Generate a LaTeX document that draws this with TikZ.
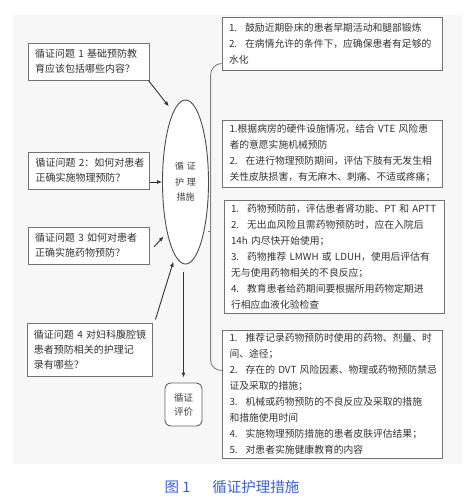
\documentclass[tikz,border=0pt]{standalone}
\usepackage{fontspec}
\usepackage{xcolor}
\newfontfamily\cjk{Noto Sans CJK SC}
\usetikzlibrary{
    arrows.meta,
    positioning,
    shapes.geometric
}
\definecolor{capblue}{RGB}{58,98,212}
\newcommand{\listno}[1]{#1.\kern8pt}

\begin{document}
\begin{tikzpicture}[
    x=1pt, y=1pt,
    font=\cjk,
    qbox/.style={
        rectangle,
        draw=black!55,
        line width=0.9pt,
        fill=white,
        align=left,
        inner xsep=7pt,
        inner ysep=3pt,
        text width=107pt,
        minimum height=37pt,
        text=black!80,
        font=\cjk\fontsize{10}{15}\selectfont
    },
    rbox/.style={
        rectangle,
        draw=black!55,
        line width=0.9pt,
        fill=white,
        align=left,
        inner xsep=7pt,
        inner ysep=3pt,
        text width=206pt,
        text=black!80,
        font=\cjk\fontsize{9.8}{16}\selectfont
    },
    hub/.style={
        ellipse,
        draw=black!70,
        line width=0.9pt,
        fill=white,
        inner sep=0pt,
        minimum width=46pt,
        minimum height=164pt,
        align=center,
        text=black!75,
        font=\cjk\fontsize{9}{15.5}\selectfont
    },
    evalbox/.style={
        rectangle,
        rounded corners=6pt,
        draw=black!60,
        line width=0.9pt,
        fill=white,
        align=center,
        minimum width=37pt,
        minimum height=43pt,
        inner sep=1pt,
        text=black!75,
        font=\cjk\fontsize{9.5}{14}\selectfont
    },
    arrow/.style={
        -{Latex[length=5pt,width=4pt]},
        line width=0.9pt,
        draw=black!80
    },
    link/.style={
        line width=0.9pt,
        draw=black!50
    }
]

\useasboundingbox (0,0) rectangle (476,-501);
\fill[black!3] (13,-15) rectangle (462,-464);

% =========================================================
% Evidence questions
% =========================================================
\node[qbox] (q1) at (88.5,-61.5)
{循证问题~1~基础预防教\\育应该包括哪些内容？};

\node[qbox] (q2) at (89,-170.5)
{循证问题~2：如何对患者\\正确实施物理预防？};

\node[qbox] (q3) at (88.5,-245.5)
{循证问题~3~如何对患者\\正确实施药物预防？};

\node[qbox, text width=111pt, minimum height=53pt] (q4) at (89.5,-349.5)
{循证问题~4~对妇科腹腔镜\\患者预防相关的护理记\\录有哪些？};

% =========================================================
% Measures and evaluation
% =========================================================
\node[hub] (ell) at (185.5,-182)
{循\,\,证\\护\,\,理\\措施};

\node[evalbox] (eval) at (183.5,-404.5)
{循证\\评价};

% =========================================================
% Measure details
% =========================================================
\node[rbox, minimum height=53pt] (r1) at (332,-43.5)
{\listno{1}鼓励近期卧床的患者早期活动和腿部锻炼\\
\listno{2}在病情允许的条件下，应确保患者有足够的\\
水化};

\node[rbox, minimum height=67pt] (r2) at (332.5,-153.5)
{1.根据病房的硬件设施情况，结合~VTE~风险患\\
者的意愿实施机械预防\\
\listno{2}在进行物理预防期间，评估下肢有无发生相\\
关性皮肤损害，有无麻木、刺痛、不适或疼痛；};

\node[rbox, minimum height=113pt] (r3) at (334,-256.5)
{\listno{1}药物预防前，评估患者肾功能、PT~和~APTT\\
\listno{2}无出血风险且需药物预防时，应在入院后\\
14h~内尽快开始使用；\\
\listno{3}药物推荐~LMWH~或~LDUH，使用后评估有\\
无与使用药物相关的不良反应；\\
\listno{4}教育患者给药期间要根据所用药物定期进\\
行相应血液化验检查};

\node[rbox, minimum height=128pt] (r4) at (332.5,-394)
{\listno{1}推荐记录药物预防时使用的药物、剂量、时\\
间、途径；\\
\listno{2}存在的~DVT~风险因素、物理或药物预防禁忌\\
证及采取的措施；\\
\listno{3}机械或药物预防的不良反应及采取的措施\\
和措施使用时间\\
\listno{4}实施物理预防措施的患者皮肤评估结果；\\
\listno{5}对患者实施健康教育的内容};

% =========================================================
% Caption
% =========================================================
\node[text=capblue, font=\cjk\fontsize{14.5}{16}\selectfont] (cap) at (232,-487)
{图 1\hspace{22pt}循证护理措施};

% =========================================================
% Arrows into the measures
% =========================================================
\draw[arrow, shorten >=7pt] ([xshift=-1pt]q1.south east) -- (ell.100);
\draw[arrow] (ell.west -| q2.east) -- (ell.west);
\draw[arrow, shorten <=1pt, shorten >=5pt] ([xshift=4pt,yshift=-2pt]q3.east) -- (ell.250);
\draw[arrow, shorten >=6pt] ([xshift=3pt,yshift=3pt]q4.north east) -- (ell.262);
\draw[arrow, shorten <=8pt, shorten >=5pt] (eval.north |- ell.south) -- (eval.north);

% =========================================================
% Brace to the details
% =========================================================
\coordinate (mid) at (211,-231);
\draw[link] ([yshift=7pt]r1.south west) to[out=180,in=90] ++(-11,-12)
    -- ++(0,-285) to[out=-90,in=180] ([yshift=-41pt]r4.north west);
\draw[link] (mid) -- ++(-3,0);

\end{tikzpicture}
\end{document}
